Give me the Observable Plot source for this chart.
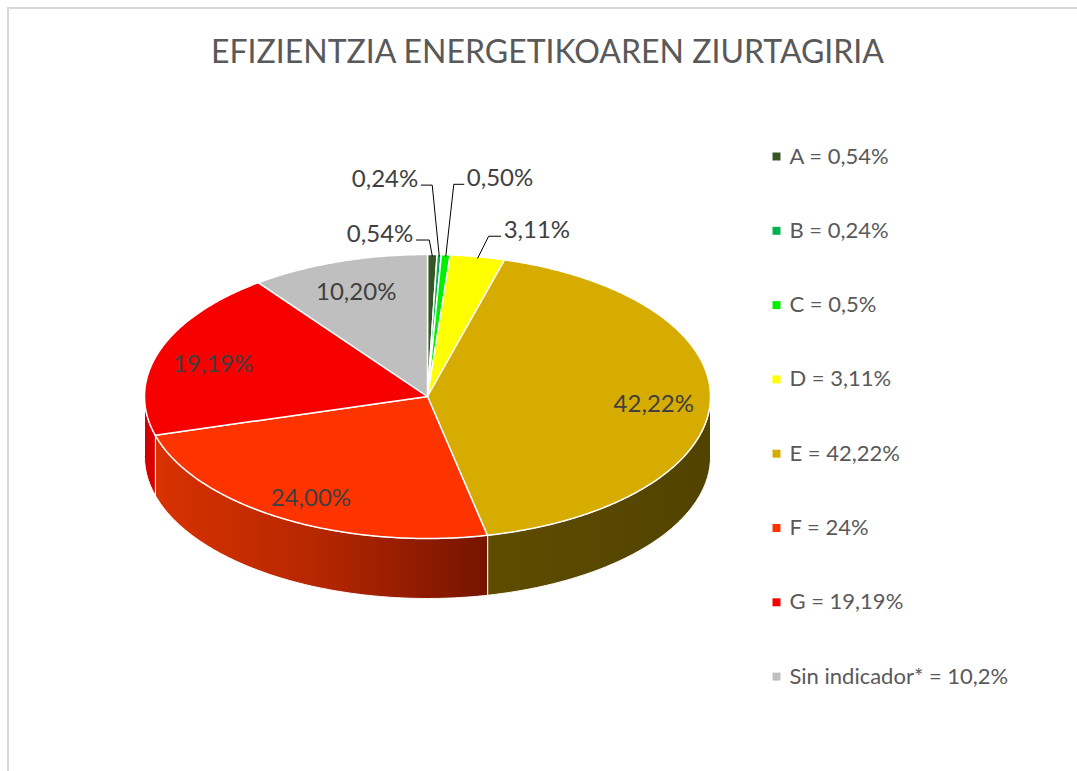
<!DOCTYPE html>
<html><head><meta charset="utf-8">
<script src="https://cdn.jsdelivr.net/npm/d3@7"></script>
<script src="https://cdn.jsdelivr.net/npm/@observablehq/plot@0.6"></script>
<style>
html,body{margin:0;padding:0;background:#fff;}
body{width:1077px;height:771px;overflow:hidden;position:relative;}
#frame{position:absolute;left:7px;top:7px;width:1120px;height:820px;border:2px solid #d9d9d9;box-sizing:border-box;}
#chart{position:absolute;left:0;top:0;}
</style></head>
<body><div id="frame"></div><div id="chart"></div>
<script>
// ---- data ----
const title = "EFIZIENTZIA ENERGETIKOAREN ZIURTAGIRIA";
const categories = ["A", "B", "C", "D", "E", "F", "G", "Sin indicador*"];
const values = [0.54, 0.24, 0.5, 3.11, 42.22, 24, 19.19, 10.2];
const sliceLabels = ["0,54%", "0,24%", "0,50%", "3,11%", "42,22%", "24,00%", "19,19%", "10,20%"];
const legendLabels = ["A = 0,54%", "B = 0,24%", "C = 0,5%", "D = 3,11%", "E = 42,22%", "F = 24%", "G = 19,19%", "Sin indicador* = 10,2%"];

// ---- style / layout ----
const colors = ["#375623", "#00b050", "#00f000", "#ffff00", "#d6ac00", "#fd3300", "#f60000", "#bfbfbf"];
const sideFills = {4: "url(#sideE)", 5: "url(#sideF)", 6: "url(#sideG)"};
const W = 1077, H = 771;
const cx = 427, cy = 396, rx = 283, ry = 142, depth = 60;
const font = "Lato, 'Open Sans', sans-serif";
// outside labels: elbow offset from slice edge, horizontal leader length
const outside = [
  {i: 0, dx: -3, dy: -16, h: -13},
  {i: 1, dx: -7, dy: -71, h: -11},
  {i: 2, dx: 8, dy: -72, h: 10},
  {i: 3, dx: 11, dy: -22, h: 12}
];
const insideFrac = 0.8, insideDy = 4;
const legend = {sx: 776, tx: 789, y0: 156, step: 74.3};

// ---- geometry from data ----
const total = d3.sum(values);
let cum = 0;
const slices = values.map((v, i) => {
  const a0 = cum / total * 2 * Math.PI; cum += v;
  const a1 = cum / total * 2 * Math.PI;
  return {i, cat: categories[i], a0, a1, mid: (a0 + a1) / 2};
});
const pt = (a, f = 1, dz = 0) => [cx + rx * f * Math.sin(a), cy - ry * f * Math.cos(a) + dz];
function arc(a0, a1, dz = 0) {
  const n = Math.max(2, Math.ceil((a1 - a0) / (Math.PI / 360)));
  return d3.range(n + 1).map(k => pt(a0 + (a1 - a0) * k / n, 1, dz));
}
const tops = slices.map(s => ({type: "Feature", properties: s,
  geometry: {type: "Polygon", coordinates: [[[cx, cy], ...arc(s.a0, s.a1), [cx, cy]]]}}));
const sides = slices.filter(s => s.a1 > Math.PI / 2 && s.a0 < 3 * Math.PI / 2).map(s => {
  const b0 = Math.max(s.a0, Math.PI / 2), b1 = Math.min(s.a1, 3 * Math.PI / 2);
  const t = arc(b0, b1), b = arc(b0, b1, depth).reverse();
  return {type: "Feature", properties: s, geometry: {type: "Polygon", coordinates: [[...t, ...b, t[0]]]}};
});

const leaders = outside.map(o => {
  const s = slices[o.i];
  const e = pt(s.mid, 1, 1.5);
  const el = [e[0] + o.dx, e[1] + o.dy];
  const end = [el[0] + o.h, el[1]];
  return {o, s, line: {type: "Feature", geometry: {type: "LineString", coordinates: [e, el, end]}},
    tx: end[0] + Math.sign(o.h) * 3, ty: end[1] + 1.5, label: sliceLabels[o.i]};
});
const insideLabels = slices.filter(s => !outside.some(o => o.i === s.i)).map(s => {
  const p = pt(s.mid, insideFrac, insideDy);
  return {x: p[0], y: p[1], label: sliceLabels[s.i]};
});
const legendRows = categories.map((c, i) => ({i, x: legend.sx, tx: legend.tx, y: legend.y0 + i * legend.step, label: legendLabels[i]}));

const chart = Plot.plot({
  width: W, height: H,
  marginTop: 0, marginRight: 0, marginBottom: 0, marginLeft: 0,
  projection: d3.geoIdentity(),
  style: {background: "transparent", fontFamily: font, overflow: "visible"},
  marks: [
    ...sides.map(f => Plot.geo([f], {fill: sideFills[f.properties.i], stroke: "white", strokeWidth: 1})),
    ...tops.map(f => Plot.geo([f], {fill: colors[f.properties.i], stroke: "white", strokeWidth: 1.5, strokeLinejoin: "round"})),
    Plot.geo(leaders.map(d => d.line), {stroke: "black", strokeWidth: 1, fill: "none"}),
    Plot.text(leaders.filter(d => d.o.h < 0), {x: "tx", y: "ty", text: "label", textAnchor: "end", lineAnchor: "bottom", fontSize: 24, fill: "#404040"}),
    Plot.text(leaders.filter(d => d.o.h > 0), {x: "tx", y: "ty", text: "label", textAnchor: "start", lineAnchor: "bottom", fontSize: 24, fill: "#404040"}),
    Plot.text(insideLabels, {x: "x", y: "y", text: "label", textAnchor: "middle", fontSize: 24, fill: "#404040"}),
    ...legendRows.map(r => Plot.dot([r], {x: "x", y: "y", symbol: "square", r: 4.5, fill: colors[r.i], stroke: "none"})),
    Plot.text(legendRows, {x: "tx", y: "y", text: "label", textAnchor: "start", fontSize: 22, fill: "#595959"}),
    Plot.text([{x: 547, y: 52, t: title}], {x: "x", y: "y", text: "t", textAnchor: "middle", fontSize: 32, fill: "#595959"})
  ]
});

const defs = d3.select(chart).insert("defs", ":first-child");
function grad(id, stops) {
  const g = defs.append("linearGradient").attr("id", id).attr("x1", 0).attr("x2", 1).attr("y1", 0).attr("y2", 0);
  stops.forEach(([o, c]) => g.append("stop").attr("offset", o).attr("stop-color", c));
}
grad("sideE", [[0, "#5e4c00"], [1, "#514300"]]);
grad("sideF", [[0, "#d83200"], [0.5, "#b52600"], [1, "#761400"]]);
grad("sideG", [[0, "#d00000"], [1, "#dc0000"]]);

document.getElementById("chart").appendChild(chart);
</script></body></html>
